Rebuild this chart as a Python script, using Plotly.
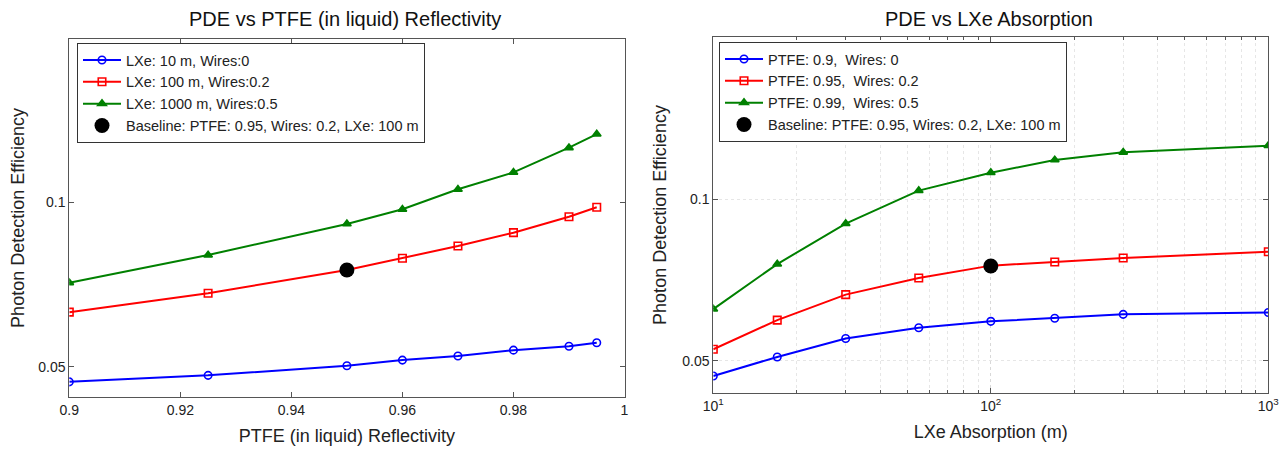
import plotly.graph_objects as go
import math

# ---- data ----
ptfe_refl = [0.9, 0.925, 0.95, 0.96, 0.97, 0.98, 0.99, 0.995]
pde_lxe10_w0 = [0.0469, 0.0482, 0.0502, 0.0514, 0.0523, 0.0536, 0.0545, 0.0553]
pde_lxe100_w02 = [0.0629, 0.0681, 0.0751, 0.0789, 0.0831, 0.0879, 0.0940, 0.0978]
pde_lxe1000_w05 = [0.0712, 0.0800, 0.0912, 0.0970, 0.1055, 0.1133, 0.1257, 0.1331]

lxe_abs = [10, 17, 30, 55, 100, 170, 300, 1000]
pde_ptfe090_w0 = [0.0468, 0.0508, 0.0550, 0.0576, 0.0592, 0.0600, 0.0610, 0.0615]
pde_ptfe095_w02 = [0.0525, 0.0595, 0.0664, 0.0713, 0.0752, 0.0764, 0.0777, 0.0798]
pde_ptfe099_w05 = [0.0624, 0.0757, 0.0901, 0.1038, 0.1121, 0.1184, 0.1224, 0.1259]

baseline_ptfe = [0.95]
baseline_lxe = [100]
baseline_pde = [0.0751]

left_names = ["LXe: 10 m, Wires:0", "LXe: 100 m, Wires:0.2", "LXe: 1000 m, Wires:0.5"]
right_names = ["PTFE: 0.9,  Wires: 0", "PTFE: 0.95,  Wires: 0.2", "PTFE: 0.99,  Wires: 0.5"]
baseline_name = "Baseline: PTFE: 0.95, Wires: 0.2, LXe: 100 m"

x1_ticks = [0.9, 0.92, 0.94, 0.96, 0.98, 1.0]
x1_ticktext = ["0.9", "0.92", "0.94", "0.96", "0.98", "1"]
x2_ticks = [10, 100, 1000]
x2_ticktext = ["10<sup>1</sup>", "10<sup>2</sup>", "10<sup>3</sup>"]
x2_minor = [20, 30, 40, 50, 60, 70, 80, 90, 200, 300, 400, 500, 600, 700, 800, 900]
y_ticks = [0.05, 0.1]
y_ticktext = ["0.05", "0.1"]

FONT = "Liberation Sans, Arial, Helvetica, sans-serif"
PAGE_W, PAGE_H = 1287, 449
OFF = 8  # default body margin of the html page
W, H = PAGE_W - OFF, PAGE_H - OFF
TXT = "#222222"

styles = [
    dict(color="#0000ff", symbol="circle-open"),
    dict(color="#ff0000", symbol="square-open"),
    dict(color="#008000", symbol="triangle-up"),
]

fig = go.Figure()

left_series = [pde_lxe10_w0, pde_lxe100_w02, pde_lxe1000_w05]
for ys, name, st in zip(left_series, left_names, styles):
    fig.add_trace(go.Scatter(
        x=ptfe_refl, y=ys, name=name, mode="lines+markers",
        line=dict(color=st["color"], width=2),
        marker=dict(symbol=st["symbol"], size=7.5, color=st["color"],
                    line=dict(color=st["color"], width=1.6)),
        xaxis="x", yaxis="y", legend="legend"))
fig.add_trace(go.Scatter(
    x=baseline_ptfe, y=baseline_pde, name=baseline_name, mode="markers",
    marker=dict(symbol="circle", size=15, color="black"),
    xaxis="x", yaxis="y", legend="legend"))

right_series = [pde_ptfe090_w0, pde_ptfe095_w02, pde_ptfe099_w05]
for ys, name, st in zip(right_series, right_names, styles):
    fig.add_trace(go.Scatter(
        x=lxe_abs, y=ys, name=name, mode="lines+markers",
        line=dict(color=st["color"], width=2),
        marker=dict(symbol=st["symbol"], size=7.5, color=st["color"],
                    line=dict(color=st["color"], width=1.6)),
        xaxis="x2", yaxis="y2", legend="legend2"))
fig.add_trace(go.Scatter(
    x=baseline_lxe, y=baseline_pde, name=baseline_name, mode="markers",
    marker=dict(symbol="circle", size=15, color="black"),
    xaxis="x2", yaxis="y2", legend="legend2"))


def px_x(p):
    return (p - OFF) / W


def px_y(p):
    return 1 - (p - OFF) / H


axis_common = dict(
    showline=True, mirror="ticks", linecolor="#555555", linewidth=1,
    ticks="inside", ticklen=5, tickcolor="#555555",
    tickfont=dict(family=FONT, size=14, color=TXT),
    zeroline=False, automargin=False,
)
title_font = dict(family=FONT, size=18, color=TXT)
legend_font = dict(family=FONT, size=14.5, color=TXT)

legend_common = dict(
    xanchor="left", yanchor="top",
    bgcolor="white", bordercolor="#333333", borderwidth=1,
    font=legend_font, tracegroupgap=0, itemclick=False,
    itemwidth=38, entrywidth=355, entrywidthmode="pixels",
)

fig.update_layout(
    width=W, height=H,
    margin=dict(l=0, r=0, t=0, b=0),
    paper_bgcolor="white", plot_bgcolor="white",
    font=dict(family=FONT, color=TXT),
    showlegend=True,
    xaxis=dict(
        domain=[px_x(69.3), px_x(624.5)], anchor="y",
        range=[0.9, 1.0], tickvals=x1_ticks, ticktext=x1_ticktext,
        showgrid=False,
        title=dict(text="PTFE (in liquid) Reflectivity", font=title_font, standoff=12),
        **axis_common),
    yaxis=dict(
        domain=[px_y(396.7), px_y(39.3)], anchor="x",
        type="log", range=[math.log10(0.04406), math.log10(0.1984)],
        tickvals=y_ticks, ticktext=y_ticktext, showgrid=False,
        title=dict(text="Photon Detection Efficiency", font=title_font, standoff=10),
        **axis_common),
    xaxis2=dict(
        domain=[px_x(713.3), px_x(1268.3)], anchor="y2",
        type="log", range=[1, 3], tickvals=x2_ticks, ticktext=x2_ticktext,
        showgrid=True, gridcolor="#d8d8d8", griddash="dot", gridwidth=1,
        minor=dict(tickvals=x2_minor, ticks="inside", ticklen=3, tickcolor="#555555",
                   showgrid=True, gridcolor="#e6e6e6", griddash="dot", gridwidth=1),
        title=dict(text="LXe Absorption (m)", font=title_font, standoff=12),
        **axis_common),
    yaxis2=dict(
        domain=[px_y(392.7), px_y(37.3)], anchor="x2",
        type="log", range=[math.log10(0.04357), math.log10(0.2005)],
        tickvals=y_ticks, ticktext=y_ticktext,
        showgrid=True, gridcolor="#e6e6e6", griddash="dot", gridwidth=1,
        title=dict(text="Photon Detection Efficiency", font=title_font, standoff=10),
        **axis_common),
    legend=dict(x=px_x(77), y=px_y(43), **legend_common),
    legend2=dict(x=px_x(719), y=px_y(42), **legend_common),
    annotations=[
        dict(text="PDE vs PTFE (in liquid) Reflectivity", x=px_x(345), y=px_y(19.5),
             xref="paper", yref="paper", xanchor="center", yanchor="middle",
             showarrow=False, font=dict(family=FONT, size=20, color="#111111")),
        dict(text="PDE vs LXe Absorption", x=px_x(989), y=px_y(18.5),
             xref="paper", yref="paper", xanchor="center", yanchor="middle",
             showarrow=False, font=dict(family=FONT, size=20, color="#111111")),
    ],
)

fig.write_html("out.html")
